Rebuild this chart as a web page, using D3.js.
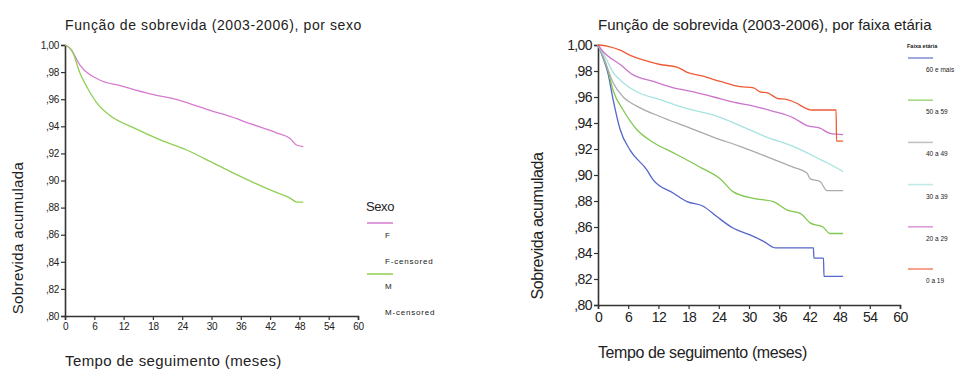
<!DOCTYPE html>
<html>
<head>
<meta charset="utf-8">
<script src="https://cdn.jsdelivr.net/npm/d3@7"></script>
<style>
  body { margin: 0; background: #fff; }
  svg { display: block; font-family: "Liberation Sans", Arial, sans-serif; }
</style>
</head>
<body>
<div id="wrapper"></div>
<script>
// survival by sex (months, cumulative survival)
const sexF = [[0,1],[1,0.9976],[3.1,0.985],[7.2,0.974],[11.3,0.970],[17.4,0.964],[23.6,0.959],[30.3,0.951],[33.2,0.948],[37.9,0.942],[43.4,0.935],[46.1,0.931],[47.5,0.926],[48.8,0.925]];
const sexM = [[0,1],[1.4,0.996],[3.1,0.979],[4.8,0.967],[6.8,0.956],[9.2,0.948],[14,0.939],[19.5,0.930],[24.9,0.9225],[30.3,0.913],[35.9,0.903],[41.4,0.894],[43.4,0.891],[46.1,0.887],[47.5,0.884],[48.8,0.884]];
const sexLegend = ["F", "F-censored", "M", "M-censored"];

// survival by age group
const age60 = [[0,1],[1,0.99],[2,0.978],[3,0.958],[4.4,0.935],[6.4,0.919],[9.7,0.904],[11,0.896],[15,0.886],[17.7,0.8795],[20.9,0.876],[23.6,0.868],[26.9,0.859],[30.2,0.854],[32.9,0.849],[35.2,0.844],[42.8,0.844],[42.9,0.836],[44.8,0.836],[44.9,0.822],[48.7,0.822]];
const age50 = [[0,1],[1.8,0.983],[3,0.965],[5,0.95],[7.7,0.935],[11,0.925],[15,0.917],[20.3,0.906],[24.3,0.897],[26.9,0.887],[30.9,0.882],[34.8,0.8795],[37.6,0.873],[40.2,0.8705],[42.2,0.863],[44.7,0.860],[46.1,0.855],[48.7,0.855]];
const age40 = [[0,1],[1.4,0.987],[3,0.971],[5,0.960],[7.7,0.953],[12.3,0.945],[17.7,0.937],[23,0.929],[28.2,0.922],[33.6,0.914],[38.8,0.906],[41.5,0.9015],[42.2,0.897],[44.1,0.895],[45.5,0.888],[48.7,0.888]];
const age30 = [[0,1],[1.4,0.991],[3,0.979],[5,0.971],[7.7,0.964],[12.3,0.958],[17.7,0.951],[23,0.946],[28.2,0.938],[33.6,0.929],[38.8,0.922],[44.1,0.912],[48.1,0.904],[48.7,0.9025]];
const age20 = [[0,1],[1,0.995],[4.4,0.985],[7,0.977],[11,0.972],[15,0.967],[19,0.964],[23,0.960],[26.9,0.956],[30.9,0.953],[34.8,0.949],[38.8,0.944],[41.5,0.938],[44.1,0.936],[46.1,0.932],[48.7,0.931]];
const age19 = [[0,1],[2,0.999],[4.4,0.996],[6.4,0.992],[10.3,0.987],[12.3,0.985],[15.7,0.983],[17.7,0.979],[20.9,0.976],[24.3,0.972],[28.2,0.968],[30.9,0.967],[32.2,0.964],[33.8,0.963],[35.6,0.959],[37.6,0.958],[39.6,0.955],[40.9,0.952],[42.5,0.950],[47.3,0.950],[47.4,0.926],[48.7,0.926]];
const ageNames = ["60 e mais", "50 a 59", "40 a 49", "30 a 39", "20 a 29", "0 a 19"];

const xTicks = [0, 6, 12, 18, 24, 30, 36, 42, 48, 54, 60];
const yTicks = [0.80, 0.82, 0.84, 0.86, 0.88, 0.90, 0.92, 0.94, 0.96, 0.98, 1.00];

const svg = d3.select("#wrapper").append("svg")
  .attr("width", 955)
  .attr("height", 369);

const fmtY = d => d === 1 ? "1,00" : d3.format(".2f")(d).replace("0.", ",");

function drawPanel(o) {
  const x = d3.scaleLinear().domain([0, 60]).range([o.x0, o.x1]);
  const y = d3.scaleLinear().domain([0.8, 1]).range([o.y0, o.y1]);
  const g = svg.append("g");

  const xAxis = g.append("g")
    .attr("transform", `translate(0,${o.y0})`)
    .call(d3.axisBottom(x).tickValues(xTicks).tickSize(4).tickPadding(3).tickFormat(d3.format("d")));
  const yAxis = g.append("g")
    .attr("transform", `translate(${o.x0},0)`)
    .call(d3.axisLeft(y).tickValues(yTicks).tickSize(4).tickPadding(2).tickFormat(fmtY));
  [xAxis, yAxis].forEach(a => {
    a.select(".domain").attr("stroke", "#333").attr("stroke-width", 1.6);
    a.selectAll(".tick line").attr("stroke", "#333").attr("stroke-width", 1.2);
    a.selectAll("text").attr("fill", "#222").style("font-size", o.tickFont + "px")
      .style("letter-spacing", o.tickSpacing);
    a.attr("font-family", null);
  });

  const line = d3.line().curve(d3.curveMonotoneX).x(d => x(d[0])).y(d => y(d[1]));
  o.series.forEach((s, i) => {
    g.append("path")
      .datum(s)
      .attr("fill", "none")
      .attr("stroke", o.colors[i])
      .attr("stroke-width", 1.3)
      .attr("d", line);
  });

  g.append("text")
    .attr("x", o.titleX).attr("y", o.titleY)
    .style("font-size", o.titleFont + "px")
    .style("letter-spacing", o.titleSpacing)
    .attr("fill", "#222")
    .text(o.title);

  g.append("text")
    .attr("x", o.x0).attr("y", o.xTitleY)
    .style("font-size", o.axisFont + "px")
    .style("letter-spacing", o.axisSpacing)
    .attr("fill", "#222")
    .text("Tempo de seguimento (meses)");

  g.append("text")
    .attr("transform", `translate(${o.yTitleX},${o.yTitleY}) rotate(-90)`)
    .attr("text-anchor", "middle")
    .style("font-size", o.axisFont + "px")
    .style("letter-spacing", o.axisSpacing)
    .attr("fill", "#222")
    .text("Sobrevida acumulada");
}

drawPanel({
  x0: 65, x1: 358, y0: 316, y1: 45,
  series: [sexF, sexM],
  colors: ["#d67ad0", "#8fcf55"],
  title: "Função de sobrevida (2003-2006), por sexo",
  titleX: 65, titleY: 30, titleFont: 14, titleSpacing: "0.6px",
  xTitleY: 366, yTitleX: 23, yTitleY: 238,
  axisFont: 15, axisSpacing: "0.4px",
  tickFont: 10, tickSpacing: "-0.3px"
});

drawPanel({
  x0: 598, x1: 900, y0: 305, y1: 45,
  series: [age60, age50, age40, age30, age20, age19],
  colors: ["#5566c8", "#80c850", "#aaaaaa", "#a6e3df", "#cc74cc", "#f05a35"],
  title: "Função de sobrevida (2003-2006), por faixa etária",
  titleX: 598, titleY: 30, titleFont: 15, titleSpacing: "0px",
  xTitleY: 358, yTitleX: 543, yTitleY: 226,
  axisFont: 16, axisSpacing: "-0.4px",
  tickFont: 14, tickSpacing: "-0.6px"
});

// left legend
const legL = svg.append("g").attr("fill", "#222");
legL.append("text").attr("x", 366).attr("y", 211).style("font-size", "13px").style("letter-spacing", "-0.4px").text("Sexo");
const sexColors = ["#d67ad0", "#8fcf55"];
sexLegend.forEach((name, i) => {
  const yy = 238 + i * 25.5;
  if (i % 2 === 0) {
    legL.append("line")
      .attr("x1", 367).attr("x2", 393)
      .attr("y1", yy - 15).attr("y2", yy - 15)
      .attr("stroke", sexColors[i / 2]).attr("stroke-width", 1.5);
  }
  legL.append("text").attr("x", 385).attr("y", yy).style("font-size", "8px").style("letter-spacing", "0.8px").text(name);
});

// right legend
const legR = svg.append("g").attr("fill", "#222");
legR.append("text").attr("x", 907).attr("y", 48).style("font-size", "5.5px").style("font-weight", "bold").text("Faixa etária");
const ageColors = ["#5566c8", "#80c850", "#aaaaaa", "#a6e3df", "#cc74cc", "#f05a35"];
ageNames.forEach((name, i) => {
  const yy = 58 + i * 42.2;
  legR.append("line")
    .attr("x1", 908).attr("x2", 933)
    .attr("y1", yy).attr("y2", yy)
    .attr("stroke", ageColors[i]).attr("stroke-width", 1.6).attr("opacity", 0.7);
  legR.append("text").attr("x", 926).attr("y", yy + 14).style("font-size", "6.5px").text(name);
});
</script>
</body>
</html>
